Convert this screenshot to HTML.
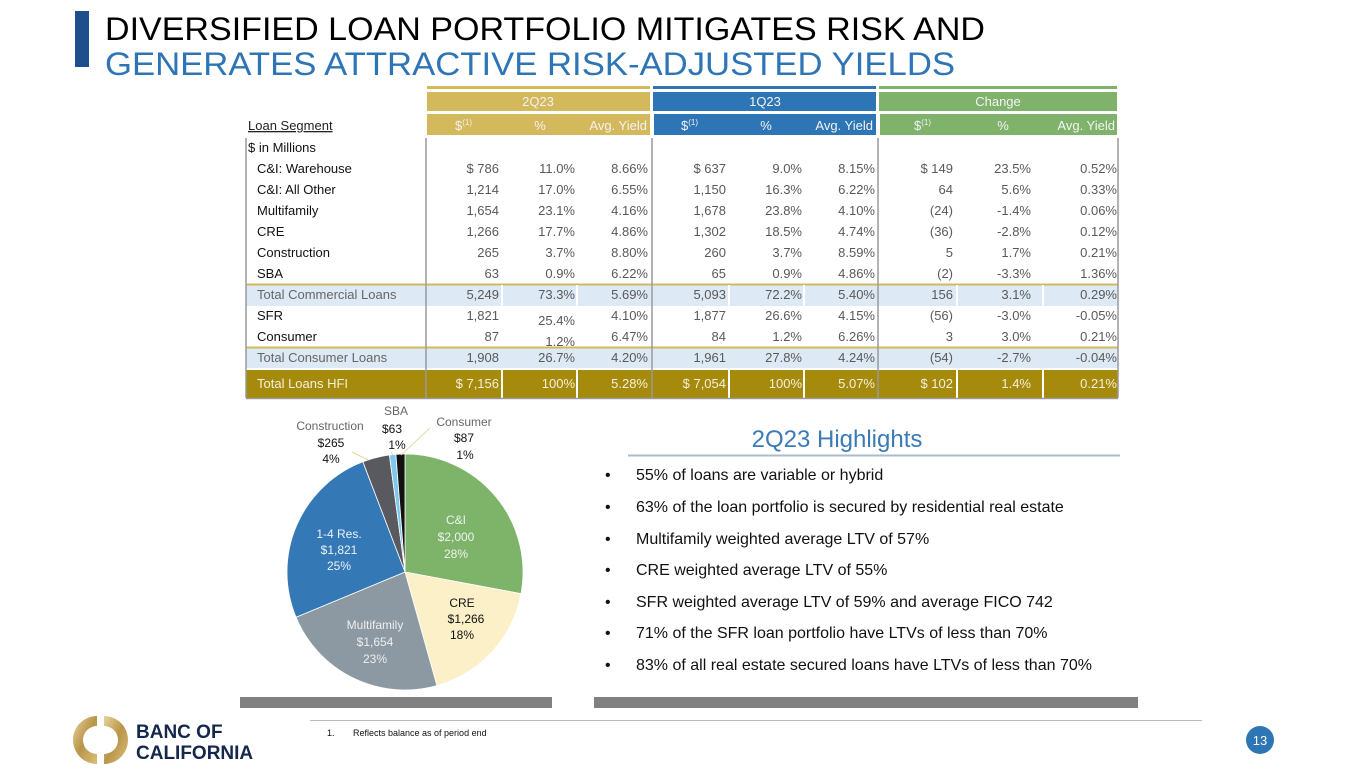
<!DOCTYPE html>
<html><head><meta charset="utf-8"><style>body{margin:0;background:#fff}svg{display:block}</style></head><body>
<svg width="1365" height="768" viewBox="0 0 1365 768" xmlns="http://www.w3.org/2000/svg" font-family="Liberation Sans, Arial, sans-serif">
<rect x="75" y="11" width="14" height="56" fill="#1f4e8c"/>
<text x="105" y="40" font-size="32" fill="#000" textLength="880" lengthAdjust="spacingAndGlyphs">DIVERSIFIED LOAN PORTFOLIO MITIGATES RISK AND</text>
<text x="105" y="75" font-size="32" fill="#2e75b6" textLength="850" lengthAdjust="spacingAndGlyphs">GENERATES ATTRACTIVE RISK-ADJUSTED YIELDS</text>
<rect x="427" y="86" width="223" height="3" fill="#d4b85c"/>
<rect x="653" y="86" width="223" height="3" fill="#2e75b6"/>
<rect x="879" y="86" width="238" height="3" fill="#7fb26a"/>
<rect x="427" y="92" width="223" height="19" fill="#d4b85c"/>
<rect x="653" y="92" width="223" height="19" fill="#2e75b6"/>
<rect x="879" y="92" width="238" height="19" fill="#7fb26a"/>
<rect x="427" y="114" width="223" height="21" fill="#d4b85c"/>
<rect x="654" y="114" width="222" height="21" fill="#2e75b6"/>
<rect x="880" y="114" width="237" height="21" fill="#7fb26a"/>
<g font-size="13" fill="#f3f3f3">
<text x="538" y="106" text-anchor="middle">2Q23</text>
<text x="765" y="106" text-anchor="middle">1Q23</text>
<text x="998" y="106" text-anchor="middle">Change</text>
<text x="455" y="130">$<tspan font-size="8" dy="-5">(1)</tspan></text>
<text x="540" y="130" text-anchor="middle">%</text>
<text x="647" y="130" text-anchor="end">Avg. Yield</text>
<text x="681" y="130">$<tspan font-size="8" dy="-5">(1)</tspan></text>
<text x="766" y="130" text-anchor="middle">%</text>
<text x="873" y="130" text-anchor="end">Avg. Yield</text>
<text x="914" y="130">$<tspan font-size="8" dy="-5">(1)</tspan></text>
<text x="1003" y="130" text-anchor="middle">%</text>
<text x="1115" y="130" text-anchor="end">Avg. Yield</text>
</g>
<text x="248" y="130" font-size="13" fill="#222" text-decoration="underline">Loan Segment</text>
<rect x="246" y="285" width="872" height="21" fill="#dde9f4"/>
<rect x="246" y="348" width="872" height="20" fill="#dde9f4"/>
<line x1="246" y1="284.5" x2="1118" y2="284.5" stroke="#d4b85c" stroke-width="2"/>
<line x1="246" y1="347.5" x2="1118" y2="347.5" stroke="#d4b85c" stroke-width="2"/>
<g stroke="#fff" stroke-width="2">
<line x1="502" y1="285" x2="502" y2="306"/><line x1="577" y1="285" x2="577" y2="306"/><line x1="729" y1="285" x2="729" y2="306"/><line x1="804" y1="285" x2="804" y2="306"/><line x1="957" y1="285" x2="957" y2="306"/><line x1="1043" y1="285" x2="1043" y2="306"/>
</g>
<rect x="246" y="370" width="872" height="28" fill="#a68a0c"/>
<g stroke="#fff" stroke-width="2">
<line x1="502" y1="370" x2="502" y2="398"/><line x1="577" y1="370" x2="577" y2="398"/><line x1="729" y1="370" x2="729" y2="398"/><line x1="804" y1="370" x2="804" y2="398"/><line x1="957" y1="370" x2="957" y2="398"/><line x1="1043" y1="370" x2="1043" y2="398"/>
</g>
<g stroke="#9a9a9a" stroke-width="1.5">
<line x1="246" y1="138" x2="246" y2="398"/>
<line x1="426" y1="138" x2="426" y2="398"/>
<line x1="652" y1="138" x2="652" y2="398"/>
<line x1="878" y1="138" x2="878" y2="398"/>
<line x1="1118" y1="138" x2="1118" y2="398"/>
<line x1="246" y1="398.5" x2="1118" y2="398.5"/>
</g>
<g font-size="13" fill="#111">
<text x="248" y="152">$ in Millions</text>
<text x="257" y="173">C&amp;I: Warehouse</text>
<text x="257" y="194">C&amp;I: All Other</text>
<text x="257" y="215">Multifamily</text>
<text x="257" y="236">CRE</text>
<text x="257" y="257">Construction</text>
<text x="257" y="278">SBA</text>
<text x="257" y="320">SFR</text>
<text x="257" y="341">Consumer</text>
</g>
<g font-size="13" fill="#666">
<text x="257" y="299">Total Commercial Loans</text>
<text x="257" y="362">Total Consumer Loans</text>
</g>
<g font-size="13" fill="#595959" text-anchor="end">
<text x="499" y="173">$  786</text><text x="575" y="173">11.0%</text><text x="648" y="173">8.66%</text>
<text x="726" y="173">$  637</text><text x="802" y="173">9.0%</text><text x="875" y="173">8.15%</text>
<text x="953" y="173">$  149</text><text x="1031" y="173">23.5%</text><text x="1117" y="173">0.52%</text>
<text x="499" y="194">1,214</text><text x="575" y="194">17.0%</text><text x="648" y="194">6.55%</text>
<text x="726" y="194">1,150</text><text x="802" y="194">16.3%</text><text x="875" y="194">6.22%</text>
<text x="953" y="194">64</text><text x="1031" y="194">5.6%</text><text x="1117" y="194">0.33%</text>
<text x="499" y="215">1,654</text><text x="575" y="215">23.1%</text><text x="648" y="215">4.16%</text>
<text x="726" y="215">1,678</text><text x="802" y="215">23.8%</text><text x="875" y="215">4.10%</text>
<text x="953" y="215">(24)</text><text x="1031" y="215">-1.4%</text><text x="1117" y="215">0.06%</text>
<text x="499" y="236">1,266</text><text x="575" y="236">17.7%</text><text x="648" y="236">4.86%</text>
<text x="726" y="236">1,302</text><text x="802" y="236">18.5%</text><text x="875" y="236">4.74%</text>
<text x="953" y="236">(36)</text><text x="1031" y="236">-2.8%</text><text x="1117" y="236">0.12%</text>
<text x="499" y="257">265</text><text x="575" y="257">3.7%</text><text x="648" y="257">8.80%</text>
<text x="726" y="257">260</text><text x="802" y="257">3.7%</text><text x="875" y="257">8.59%</text>
<text x="953" y="257">5</text><text x="1031" y="257">1.7%</text><text x="1117" y="257">0.21%</text>
<text x="499" y="278">63</text><text x="575" y="278">0.9%</text><text x="648" y="278">6.22%</text>
<text x="726" y="278">65</text><text x="802" y="278">0.9%</text><text x="875" y="278">4.86%</text>
<text x="953" y="278">(2)</text><text x="1031" y="278">-3.3%</text><text x="1117" y="278">1.36%</text>
<text x="499" y="299">5,249</text><text x="575" y="299">73.3%</text><text x="648" y="299">5.69%</text>
<text x="726" y="299">5,093</text><text x="802" y="299">72.2%</text><text x="875" y="299">5.40%</text>
<text x="953" y="299">156</text><text x="1031" y="299">3.1%</text><text x="1117" y="299">0.29%</text>
<text x="499" y="320">1,821</text><text x="575" y="325">25.4%</text><text x="648" y="320">4.10%</text>
<text x="726" y="320">1,877</text><text x="802" y="320">26.6%</text><text x="875" y="320">4.15%</text>
<text x="953" y="320">(56)</text><text x="1031" y="320">-3.0%</text><text x="1117" y="320">-0.05%</text>
<text x="499" y="341">87</text><text x="575" y="346">1.2%</text><text x="648" y="341">6.47%</text>
<text x="726" y="341">84</text><text x="802" y="341">1.2%</text><text x="875" y="341">6.26%</text>
<text x="953" y="341">3</text><text x="1031" y="341">3.0%</text><text x="1117" y="341">0.21%</text>
<text x="499" y="362">1,908</text><text x="575" y="362">26.7%</text><text x="648" y="362">4.20%</text>
<text x="726" y="362">1,961</text><text x="802" y="362">27.8%</text><text x="875" y="362">4.24%</text>
<text x="953" y="362">(54)</text><text x="1031" y="362">-2.7%</text><text x="1117" y="362">-0.04%</text>
</g>
<g font-size="13" fill="#f5f0dc">
<text x="257" y="388">Total Loans HFI</text>
<g text-anchor="end">
<text x="499" y="388">$  7,156</text><text x="575" y="388">100%</text><text x="648" y="388">5.28%</text>
<text x="726" y="388">$  7,054</text><text x="802" y="388">100%</text><text x="875" y="388">5.07%</text>
<text x="953" y="388">$  102</text><text x="1031" y="388">1.4%</text><text x="1117" y="388">0.21%</text>
</g></g>
<g stroke="#fff" stroke-width="0.8">
<path d="M405,572 L405,454 A118,118 0 0 1 521,593.7 Z" fill="#7eb46a"/>
<path d="M405,572 L521,593.7 A118,118 0 0 1 436.9,685.6 Z" fill="#fcf0c8"/>
<path d="M405,572 L436.9,685.6 A118,118 0 0 1 296,617.2 Z" fill="#8c99a2"/>
<path d="M405,572 L296,617.2 A118,118 0 0 1 362.9,461.8 Z" fill="#3479b5"/>
<path d="M405,572 L362.9,461.8 A118,118 0 0 1 389.4,455 Z" fill="#595960"/>
<path d="M405,572 L389.4,455 A118,118 0 0 1 395.9,454.3 Z" fill="#7ec8ee"/>
<path d="M405,572 L395.9,454.3 A118,118 0 0 1 405,454 Z" fill="#111"/>
</g>
<g stroke="#e8d8a8" stroke-width="1">
<line x1="352" y1="452" x2="368" y2="460"/><line x1="391" y1="452" x2="393" y2="455"/><line x1="430" y1="428" x2="401" y2="455"/>
</g>
<g font-size="12" text-anchor="middle">
<text x="456" y="524" fill="#f0f0f0">C&amp;I</text><text x="456" y="541" fill="#f0f0f0">$2,000</text><text x="456" y="558" fill="#f0f0f0">28%</text>
<text x="462" y="607" fill="#111">CRE</text><text x="466" y="623" fill="#111">$1,266</text><text x="462" y="639" fill="#111">18%</text>
<text x="375" y="629" fill="#eee">Multifamily</text><text x="375" y="646" fill="#eee">$1,654</text><text x="375" y="663" fill="#eee">23%</text>
<text x="339" y="538" fill="#eaf2fa">1-4 Res.</text><text x="339" y="554" fill="#eaf2fa">$1,821</text><text x="339" y="570" fill="#eaf2fa">25%</text>
<text x="330" y="430" fill="#666">Construction</text><text x="331" y="447" fill="#111">$265</text><text x="331" y="463" fill="#111">4%</text>
<text x="396" y="415" fill="#666">SBA</text><text x="392" y="433" fill="#111">$63</text><text x="397" y="449" fill="#111">1%</text>
<text x="464" y="426" fill="#666">Consumer</text><text x="464" y="442" fill="#111">$87</text><text x="465" y="459" fill="#111">1%</text>
</g>
<text x="837" y="447" font-size="24" fill="#3a7ab5" text-anchor="middle">2Q23 Highlights</text>
<line x1="628" y1="455.5" x2="1120" y2="455.5" stroke="#a9bccd" stroke-width="2"/>
<g font-size="16" fill="#111">
<text x="605" y="480">•</text><text x="636" y="480">55% of loans are variable or hybrid</text>
<text x="605" y="512">•</text><text x="636" y="512">63% of the loan portfolio is secured by residential real estate</text>
<text x="605" y="544">•</text><text x="636" y="544">Multifamily weighted average LTV of 57%</text>
<text x="605" y="575">•</text><text x="636" y="575">CRE weighted average LTV of 55%</text>
<text x="605" y="607">•</text><text x="636" y="607">SFR weighted average LTV of 59% and average FICO 742</text>
<text x="605" y="638">•</text><text x="636" y="638">71% of the SFR loan portfolio have LTVs of less than 70%</text>
<text x="605" y="670">•</text><text x="636" y="670">83% of all real estate secured loans have LTVs of less than 70%</text>
</g>
<rect x="240" y="697" width="312" height="11" fill="#808080"/>
<rect x="594" y="697" width="544" height="11" fill="#808080"/>
<line x1="310" y1="720.5" x2="1202" y2="720.5" stroke="#bbb" stroke-width="1"/>
<text x="327" y="736" font-size="9" fill="#111">1.</text><text x="353" y="736" font-size="9" fill="#111">Reflects balance as of period end</text>
<defs><linearGradient id="g" x1="0" y1="0" x2="1" y2="1"><stop offset="0" stop-color="#e8d49a"/><stop offset="0.5" stop-color="#b8954a"/><stop offset="1" stop-color="#d9c07a"/></linearGradient></defs>
<path d="M97,716 A24,24 0 0 0 97,764 L97,754 A14,14 0 0 1 97,726 Z" fill="url(#g)"/>
<path d="M104,716 A24,24 0 0 1 104,764 L104,754 A14,14 0 0 0 104,726 Z" fill="url(#g)"/>
<g font-size="19" font-weight="bold" fill="#14284b">
<text x="136" y="738">BANC OF</text><text x="136" y="759">CALIFORNIA</text>
</g>
<circle cx="1260" cy="740" r="14" fill="#2e75b6"/>
<text x="1260" y="745" font-size="13" fill="#fff" text-anchor="middle">13</text>
</svg>
</body></html>
